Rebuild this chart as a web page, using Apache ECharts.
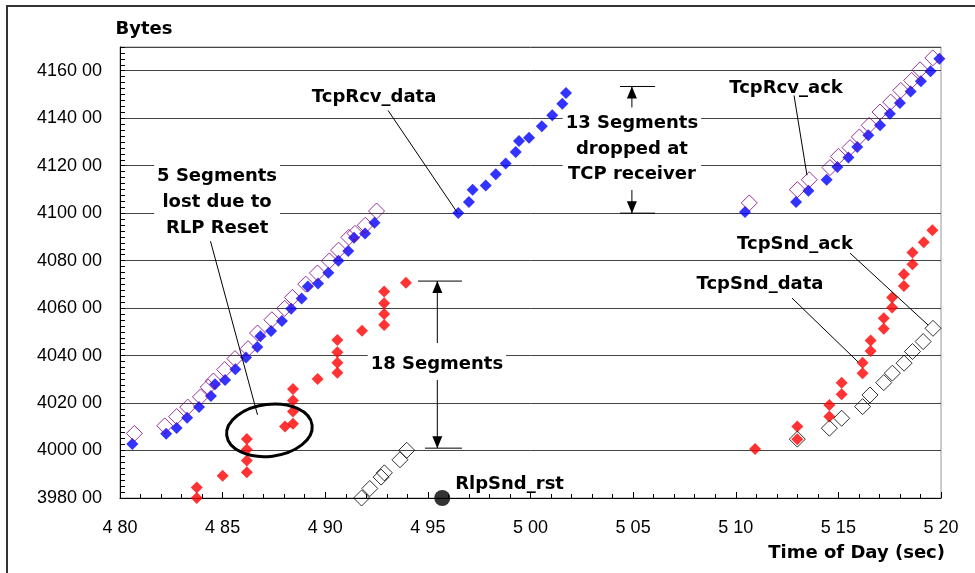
<!DOCTYPE html>
<html><head><meta charset="utf-8">
<script src="https://cdn.jsdelivr.net/npm/echarts@6/dist/echarts.min.js"></script>
<style>html,body{margin:0;padding:0;background:#fff}#c{width:975px;height:573px}</style>
</head><body><div id="c"></div>
<script>
// ---------------- DATA ----------------
const xTicks = [480, 485, 490, 495, 500, 505, 510, 515, 520];
const yTicks = [398000, 400000, 402000, 404000, 406000, 408000, 410000, 412000, 414000, 416000];

// TcpRcv_data (blue filled diamonds)
const rcvDataTime = [480.60,482.25,482.76,483.27,483.85,484.43,484.63,485.12,485.62,486.14,486.69,486.84,487.36,487.89,488.34,488.85,489.15,489.65,490.15,490.64,491.12,491.40,491.94,492.40,
  496.48,497.00,497.18,497.82,498.31,498.79,499.28,499.44,499.93,500.55,501.06,501.55,501.73,
  510.45,512.94,513.54,514.43,514.95,515.49,515.92,516.46,517.03,517.51,518.00,518.52,519.02,519.49,519.92];
const rcvDataBytes = [400280,400710,400950,401380,401830,402300,402790,402970,403420,403920,404360,404810,405040,405460,405970,406400,406910,407040,407490,407990,408410,408960,409140,409600,
  410010,410470,410990,411160,411640,412090,412580,413040,413180,413660,414120,414610,415060,
  410050,410470,410940,411410,411940,412340,412790,413280,413700,414190,414640,415130,415560,415980,416500];

// TcpRcv_ack (purple hollow diamonds)
const rcvAckTime = [480.70,482.18,482.76,483.30,483.92,484.30,484.55,485.10,485.60,486.24,486.70,487.40,488.02,488.40,489.05,489.62,490.20,490.65,491.15,491.45,491.95,492.50,
  510.66,513.00,513.58,514.59,515.00,515.57,516.02,516.50,517.03,517.55,518.04,518.57,518.98,519.60];
const rcvAckBytes = [400720,401040,401430,401830,402260,402670,402930,403410,403870,404290,404950,405510,405990,406450,407010,407480,407990,408440,408980,409150,409490,410090,
  410430,410990,411410,411920,412390,412760,413210,413700,414260,414680,415170,415590,416040,416540];

// TcpSnd_data (red filled diamonds)
const sndDataTime = [483.74,483.74,485.00,486.18,486.18,486.18,486.18,488.04,488.43,488.43,488.43,488.43,489.63,490.59,490.59,490.59,490.59,491.79,492.87,492.87,492.87,492.87,493.93,
  510.94,513.00,513.00,514.56,514.56,515.16,515.16,516.18,516.18,516.57,516.57,517.21,517.21,517.62,517.62,518.19,518.19,518.61,518.61,519.16,519.58];
const sndDataBytes = [398000,398440,398940,399090,399580,400040,400490,401010,401130,401640,402110,402590,403010,403280,403700,404140,404660,405050,405290,405750,406200,406700,407070,
  400060,400480,401010,401430,401920,402370,402860,403260,403700,404190,404630,405130,405570,406030,406450,406930,407430,407850,408340,408770,409280];

// TcpSnd_ack (black hollow diamonds)
const sndAckTime = [491.77,492.17,492.72,492.88,493.64,493.97,
  513.00,514.56,515.16,516.18,516.54,517.21,517.63,518.20,518.61,519.13,519.61];
const sndAckBytes = [398000,398400,398880,399060,399610,400010,
  400480,400940,401360,401850,402340,402860,403260,403680,404170,404590,405150];

// RlpSnd_rst (black dot)
const rlpRstTime = [495.70];
const rlpRstBytes = [398000];

// ---------------- CHART ----------------
function pairs(a, b) { return a.map((v, i) => [v, b[i]]); }
const LBL = "bold 18px 'DejaVu Sans', sans-serif";
const TICKFONT = "Liberation Sans";

const chart = echarts.init(document.getElementById('c'), null, { renderer: 'canvas' });

const option = {
  animation: false,
  backgroundColor: '#fff',
  grid: { left: 120, top: 47, right: 34, bottom: 75, show: true, borderColor: '#999', borderWidth: 1 },
  xAxis: {
    type: 'value', min: xTicks[0], max: xTicks[xTicks.length - 1], interval: xTicks[1] - xTicks[0],
    axisLine: { show: true, onZero: false, lineStyle: { color: '#000', width: 1 } },
    axisTick: { show: true, inside: true, length: 6, lineStyle: { color: '#000' } },
    minorTick: { show: true, splitNumber: 5, length: 4, lineStyle: { color: '#000' } },
    splitLine: { show: false },
    axisLabel: { margin: 21, color: '#000', fontFamily: TICKFONT, fontSize: 18,
      formatter: v => { const s = String(v); return s[0] + ' ' + s.slice(1); } }
  },
  yAxis: [
    {
      type: 'value', min: yTicks[0], max: 417000, interval: yTicks[1] - yTicks[0], position: 'left',
      axisLine: { show: true, onZero: false, lineStyle: { color: '#000', width: 1 } },
      axisTick: { show: false },
      splitLine: { show: true, lineStyle: { color: '#444', width: 1 } },
      axisLabel: { margin: 18, color: '#000', fontFamily: TICKFONT, fontSize: 18, showMaxLabel: false,
        formatter: v => { if (yTicks.indexOf(v) < 0) return ''; const s = String(v); return s.slice(0, 4) + ' ' + s.slice(4); } }
    },
    {
      type: 'value', min: yTicks[0], max: 417000, interval: 250, position: 'left',
      axisLine: { show: false }, axisLabel: { show: false }, splitLine: { show: false },
      axisTick: { show: true, inside: true, length: 5, lineStyle: { color: '#000' } }
    }
  ],
  series: [
    { type: 'scatter', name: 'TcpRcv_data', data: pairs(rcvDataTime, rcvDataBytes), symbol: 'diamond', symbolSize: 12,
      itemStyle: { color: '#0000ff' }, z: 3, silent: true },
    { type: 'scatter', name: 'TcpRcv_ack', data: pairs(rcvAckTime, rcvAckBytes), symbol: 'diamond', symbolSize: 16,
      itemStyle: { color: 'rgba(255,255,255,0)', borderColor: '#800080', borderWidth: 1 }, z: 4, silent: true },
    { type: 'scatter', name: 'TcpSnd_data', data: pairs(sndDataTime, sndDataBytes), symbol: 'diamond', symbolSize: 12,
      itemStyle: { color: '#ff0000' }, z: 3, silent: true },
    { type: 'scatter', name: 'TcpSnd_ack', data: pairs(sndAckTime, sndAckBytes), symbol: 'diamond', symbolSize: 16,
      itemStyle: { color: 'rgba(255,255,255,0)', borderColor: '#000', borderWidth: 1 }, z: 4, silent: true },
    { type: 'scatter', name: 'RlpSnd_rst', data: pairs(rlpRstTime, rlpRstBytes), symbol: 'circle', symbolSize: 16,
      itemStyle: { color: '#000' }, z: 5, silent: true }
  ]
};
chart.setOption(option);

// ---------------- ANNOTATIONS (anchored in data coordinates) ----------------
const P = (x, y) => chart.convertToPixel({ xAxisIndex: 0, yAxisIndex: 0 }, [x, y]);

const labels = [
  { text: 'TcpRcv_data', at: [492.38, 414875] },
  { text: 'TcpRcv_ack', at: [512.45, 415253] },
  { text: 'TcpSnd_ack', at: [512.89, 408693] },
  { text: 'TcpSnd_data', at: [511.18, 407011] },
  { text: 'RlpSnd_rst', at: [498.98, 398559] }
];
const blocks = [
  { text: '13 Segments\ndropped at\nTCP receiver', at: [504.94, 412701], lh: 25.5 },
  { text: '5 Segments\nlost due to\nRLP Reset', at: [484.73, 410460], lh: 26 },
  { text: '18 Segments', at: [495.44, 403647], lh: 24 }
];
const leaders = [
  [[493.06, 414328], [496.42, 410039]],
  [[484.29, 409198], [486.70, 401503]],
  [[512.84, 414959], [513.47, 411595]],
  [[515.57, 408315], [519.37, 405287]],
  [[512.74, 406423], [515.96, 403731]]
];
const spans = [
  { x: 504.94, top: 415337, bottom: 410000, shaftTop: 414454, shaftBottom: 410973, topBar: [504.36, 506.07], bottomBar: [504.36, 506.07] },
  { x: 495.46, top: 407138, bottom: 400100, shaftTop: 404530, shaftBottom: 402975, topBar: [494.52, 496.66], bottomBar: [494.86, 496.66] }
];
const lossRing = { center: [487.28, 400851], rx: 43, ry: 26, tilt: 0.12 };

const g = [];
// outer frame
g.push({ type: 'rect', x: 0, y: 0, z: 100, shape: { x: 7, y: 6, width: 1000, height: 600 }, style: { fill: 'none', stroke: '#333', lineWidth: 2 }, silent: true });
// axis titles
g.push({ type: 'text', x: 144, y: 29, z: 100, style: { text: 'Bytes', font: LBL, fill: '#000', align: 'center', verticalAlign: 'middle' } });
g.push({ type: 'text', x: 945, y: 553, z: 100, style: { text: 'Time of Day (sec)', font: LBL, fill: '#000', align: 'right', verticalAlign: 'middle' } });

leaders.forEach(l => {
  const a = P(l[0][0], l[0][1]), b = P(l[1][0], l[1][1]);
  g.push({ type: 'line', z: 90, shape: { x1: a[0], y1: a[1], x2: b[0], y2: b[1] }, style: { stroke: '#000', lineWidth: 1 }, silent: true });
});
labels.forEach(l => {
  const p = P(l.at[0], l.at[1]);
  g.push({ type: 'text', x: p[0], y: p[1], z: 100, style: { text: l.text, font: LBL, fill: '#000', align: 'center', verticalAlign: 'middle' } });
});
blocks.forEach(b => {
  const p = P(b.at[0], b.at[1]);
  g.push({ type: 'text', x: p[0], y: p[1], z: 100, style: { text: b.text, font: LBL, fill: '#000', align: 'center', verticalAlign: 'middle', lineHeight: b.lh, backgroundColor: '#fff', padding: [0, 3] } });
});
spans.forEach(s => {
  const t1 = P(s.topBar[0], s.top), t2 = P(s.topBar[1], s.top);
  const b1 = P(s.bottomBar[0], s.bottom), b2 = P(s.bottomBar[1], s.bottom);
  const tip1 = P(s.x, s.top), tip2 = P(s.x, s.bottom);
  const st = P(s.x, s.shaftTop), sb = P(s.x, s.shaftBottom);
  g.push({ type: 'line', z: 95, shape: { x1: t1[0], y1: t1[1], x2: t2[0], y2: t2[1] }, style: { stroke: '#000', lineWidth: 1 } });
  g.push({ type: 'line', z: 95, shape: { x1: b1[0], y1: b1[1], x2: b2[0], y2: b2[1] }, style: { stroke: '#000', lineWidth: 1 } });
  g.push({ type: 'line', z: 95, shape: { x1: tip1[0], y1: tip1[1], x2: st[0], y2: st[1] }, style: { stroke: '#000', lineWidth: 1 } });
  g.push({ type: 'line', z: 95, shape: { x1: tip2[0], y1: tip2[1], x2: sb[0], y2: sb[1] }, style: { stroke: '#000', lineWidth: 1 } });
  g.push({ type: 'polygon', z: 96, shape: { points: [[tip1[0], tip1[1]], [tip1[0] - 5, tip1[1] + 12], [tip1[0] + 5, tip1[1] + 12]] }, style: { fill: '#000' } });
  g.push({ type: 'polygon', z: 96, shape: { points: [[tip2[0], tip2[1]], [tip2[0] - 5, tip2[1] - 12], [tip2[0] + 5, tip2[1] - 12]] }, style: { fill: '#000' } });
});
{
  const c = P(lossRing.center[0], lossRing.center[1]);
  g.push({ type: 'ellipse', x: c[0], y: c[1], rotation: lossRing.tilt, z: 97, shape: { cx: 0, cy: 0, rx: lossRing.rx, ry: lossRing.ry }, style: { fill: 'none', stroke: '#000', lineWidth: 3 } });
}
chart.setOption({ graphic: g });
</script>
</body></html>
